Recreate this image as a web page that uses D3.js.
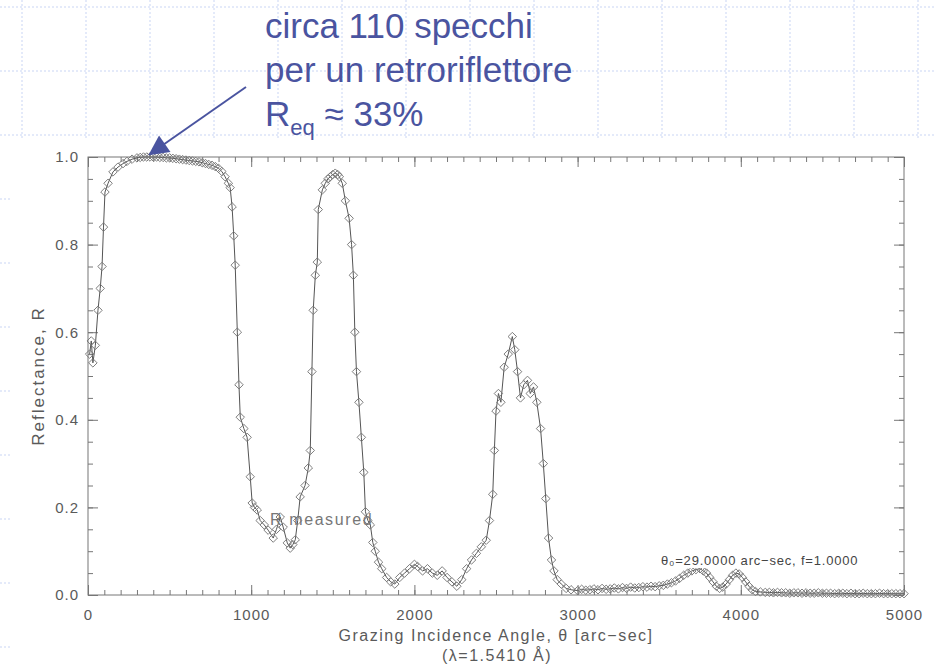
<!DOCTYPE html>
<html>
<head>
<meta charset="utf-8">
<script src="https://cdn.jsdelivr.net/npm/d3@7"></script>
<style>
    html, body { margin: 0; padding: 0; background: #fff; }
    svg { display: block; }
</style>
</head>
<body>
<svg id="chart" width="936" height="669"></svg>
<script>
// measured reflectance, [grazing angle in arc-sec, R]
const firstPeak = [
    [10, .55], [20, .58], [30, .53], [45, .57], [61, .65], [75, .70], [86, .75], [95, .84],
    [104, .92], [123, .94], [153, .966], [184, .977], [215, .985], [239, .99], [270, .995], [300, .998],
    [320, .999], [340, 1], [360, 1], [380, 1], [400, 1], [420, 1], [440, .999], [460, .999],
    [480, .998], [500, .998], [520, .997], [540, .996], [560, .995], [580, .994], [600, .993], [620, .992],
    [640, .991], [660, .99], [680, .989], [700, .987], [720, .985], [740, .983], [760, .981], [780, .978],
    [800, .974], [820, .967], [840, .955], [860, .94], [871, .93], [883, .886], [893, .82], [902, .753]
];
const firstTrough = [
    [915, .60], [925, .48], [933, .406], [955, .38], [975, .36], [994, .27], [1006, .21], [1020, .2],
    [1037, .194], [1055, .17], [1080, .16], [1104, .148], [1135, .13], [1155, .15], [1178, .178], [1196, .155],
    [1221, .119], [1239, .107], [1255, .115], [1270, .126], [1285, .17], [1300, .224], [1330, .25], [1350, .29]
];
const secondPeak = [
    [1362, .33], [1372, .51], [1380, .65], [1393, .73], [1405, .76], [1411, .88], [1436, .925], [1454, .94],
    [1470, .95], [1485, .955], [1500, .96], [1515, .963], [1530, .96], [1540, .955], [1558, .94], [1577, .90],
    [1600, .86], [1615, .80], [1626, .73], [1635, .60], [1645, .51], [1660, .44], [1675, .36], [1690, .28],
    [1700, .19], [1715, .17], [1730, .16], [1745, .12], [1760, .10], [1780, .075], [1800, .06], [1830, .04],
    [1855, .03], [1880, .025], [1910, .04], [1940, .05], [1970, .06], [2000, .07], [2020, .065], [2050, .055],
    [2080, .06], [2110, .05], [2140, .045], [2170, .055], [2200, .04], [2230, .03], [2260, .02], [2290, .035]
];
const thirdPeak = [
    [2320, .06], [2350, .08], [2380, .095], [2410, .11], [2440, .125], [2460, .17], [2480, .23], [2490, .33],
    [2500, .42], [2515, .46], [2530, .44], [2550, .52], [2575, .55], [2600, .59], [2615, .56], [2632, .51],
    [2650, .45], [2670, .48], [2693, .49], [2710, .46], [2730, .475], [2750, .44], [2773, .38], [2790, .30],
    [2805, .22], [2822, .13], [2840, .08], [2855, .055], [2875, .035], [2900, .025], [2930, .015], [2960, .012]
];
const tail = [
    [3000, .010], [3025, .013], [3050, .011], [3075, .012], [3100, .014], [3125, .012], [3150, .015], [3175, .013],
    [3200, .014], [3225, .016], [3250, .014], [3275, .017], [3300, .015], [3325, .018], [3350, .016], [3375, .017],
    [3400, .019], [3425, .018], [3450, .020], [3475, .019], [3500, .021], [3525, .022], [3550, .025], [3575, .028],
    [3600, .032], [3625, .038], [3650, .045], [3675, .05], [3700, .055], [3725, .058], [3750, .06], [3770, .055],
    [3790, .05], [3810, .04], [3830, .03], [3850, .02], [3870, .015], [3890, .018], [3910, .025], [3930, .035],
    [3950, .045], [3970, .05], [3990, .048], [4010, .04], [4030, .03], [4050, .02], [4070, .012], [4090, .008],
    [4120, .007], [4150, .006], [4175, .006], [4200, .005], [4225, .006], [4250, .005], [4275, .005], [4300, .004],
    [4325, .005], [4350, .005], [4375, .004], [4400, .005], [4425, .004], [4450, .004], [4475, .005], [4500, .004],
    [4525, .004], [4550, .004], [4575, .003], [4600, .004], [4625, .004], [4650, .003], [4675, .004], [4700, .003],
    [4725, .003], [4750, .004], [4775, .003], [4800, .003], [4825, .003], [4850, .004], [4875, .003], [4900, .003],
    [4925, .003], [4950, .003], [4975, .003], [5000, .003]
];

const xTicks = [0, 1000, 2000, 3000, 4000, 5000];
const yTicks = [0, 0.2, 0.4, 0.6, 0.8, 1.0];
const noteLines = ['circa 110 specchi', 'per un retroriflettore'];

const W = 936, H = 669;
const blue = '#4a54a0';
const ink = '#5a5a5a';
const axisFont = '"Liberation Sans Narrow", "Liberation Sans", Arial, sans-serif';

const svg = d3.select('#chart');

// slide background: dotted blue grid
const grid = svg.append('g');
grid.selectAll('line.h')
    .data(d3.range(7, H, 64))
    .join('line')
    .attr('class', 'h')
    .attr('x1', 0).attr('x2', W)
    .attr('y1', d => d).attr('y2', d => d);
grid.selectAll('line.v')
    .data(d3.range(22, W, 64))
    .join('line')
    .attr('class', 'v')
    .attr('x1', d => d).attr('x2', d => d)
    .attr('y1', 0).attr('y2', H);
grid.selectAll('line')
    .attr('stroke', '#c9d5f4')
    .attr('stroke-width', 1)
    .attr('stroke-dasharray', '2,2');

// the pasted plot sits on a white panel
svg.append('rect')
    .attr('x', 10).attr('y', 140)
    .attr('width', W - 10).attr('height', H - 140)
    .attr('fill', '#fff');

const x = d3.scaleLinear().domain([0, 5000]).range([88, 904]);
const y = d3.scaleLinear().domain([0, 1]).range([595, 157]);

const plot = svg.append('g');

function styleAxis(g) {
    g.select('.domain').remove();
    g.selectAll('.tick line').attr('stroke', '#777').attr('stroke-width', 1);
    g.selectAll('.tick text')
        .attr('fill', ink)
        .style('font-family', axisFont)
        .style('font-size', '15px')
        .style('letter-spacing', '1px');
}

// bottom / top
plot.append('g')
    .attr('transform', `translate(0,${y(0)})`)
    .call(d3.axisBottom(x).tickValues(d3.range(0, 5001, 100)).tickSize(-5).tickFormat(''))
    .call(styleAxis);
plot.append('g')
    .attr('transform', `translate(0,${y(0)})`)
    .call(d3.axisBottom(x).tickValues(xTicks).tickSize(-10).tickPadding(14).tickFormat(d3.format('d')))
    .call(styleAxis);
plot.append('g')
    .attr('transform', `translate(0,${y(1)})`)
    .call(d3.axisTop(x).tickValues(d3.range(0, 5001, 100)).tickSize(-5).tickFormat(''))
    .call(styleAxis);
plot.append('g')
    .attr('transform', `translate(0,${y(1)})`)
    .call(d3.axisTop(x).tickValues(xTicks).tickSize(-10).tickFormat(''))
    .call(styleAxis);

// left / right
plot.append('g')
    .attr('transform', `translate(${x(0)},0)`)
    .call(d3.axisLeft(y).tickValues(d3.range(0, 1.001, 0.05)).tickSize(-5).tickFormat(''))
    .call(styleAxis);
plot.append('g')
    .attr('transform', `translate(${x(0)},0)`)
    .call(d3.axisLeft(y).tickValues(yTicks).tickSize(-10).tickPadding(9).tickFormat(d3.format('.1f')))
    .call(styleAxis);
plot.append('g')
    .attr('transform', `translate(${x(5000)},0)`)
    .call(d3.axisRight(y).tickValues(d3.range(0, 1.001, 0.05)).tickSize(-5).tickFormat(''))
    .call(styleAxis);
plot.append('g')
    .attr('transform', `translate(${x(5000)},0)`)
    .call(d3.axisRight(y).tickValues(yTicks).tickSize(-10).tickFormat(''))
    .call(styleAxis);

plot.append('rect')
    .attr('x', x(0)).attr('y', y(1))
    .attr('width', x(5000) - x(0)).attr('height', y(0) - y(1))
    .attr('fill', 'none')
    .attr('stroke', '#777');

// curve + diamonds
const measured = firstPeak.concat(firstTrough, secondPeak, thirdPeak, tail);

const line = d3.line()
    .x(d => x(d[0]))
    .y(d => y(d[1]));

plot.append('path')
    .datum(measured)
    .attr('d', line)
    .attr('fill', 'none')
    .attr('stroke', '#555')
    .attr('stroke-width', 1);

const diamond = d3.symbol(d3.symbolSquare, 36);
plot.append('g')
    .selectAll('path')
    .data(measured)
    .join('path')
    .attr('d', diamond)
    .attr('transform', d => `translate(${x(d[0])},${y(d[1])}) rotate(45)`)
    .attr('fill', 'none')
    .attr('stroke', '#777')
    .attr('stroke-width', 0.9);

// axis titles
plot.append('text')
    .attr('transform', `translate(44,${(y(0) + y(1)) / 2}) rotate(-90)`)
    .attr('text-anchor', 'middle')
    .attr('fill', ink)
    .style('font-family', axisFont)
    .style('font-size', '17px')
    .style('letter-spacing', '2px')
    .text('Reflectance, R');

plot.append('text')
    .attr('x', 496).attr('y', 641)
    .attr('text-anchor', 'middle')
    .attr('fill', ink)
    .style('font-family', axisFont)
    .style('font-size', '16px')
    .style('letter-spacing', '1.5px')
    .text('Grazing Incidence Angle, θ [arc−sec]');

plot.append('text')
    .attr('x', 497).attr('y', 661)
    .attr('text-anchor', 'middle')
    .attr('fill', ink)
    .style('font-family', axisFont)
    .style('font-size', '16px')
    .style('letter-spacing', '1.5px')
    .text('(λ=1.5410 Å)');

// legend-ish labels inside the plot
plot.append('text')
    .attr('x', 270).attr('y', 525)
    .attr('fill', '#777')
    .style('font-family', axisFont)
    .style('font-size', '16px')
    .style('letter-spacing', '1.6px')
    .text('R measured');

const note = plot.append('g').attr('transform', 'translate(657,552)');
note.append('rect')
    .attr('width', 222).attr('height', 16)
    .attr('fill', '#fff');
note.append('text')
    .attr('x', 4).attr('y', 13)
    .attr('fill', '#444')
    .style('font-family', axisFont)
    .style('font-size', '13px')
    .style('letter-spacing', '0.8px')
    .text('θ₀=29.0000 arc−sec, f=1.0000');

// annotation on top of the slide
const ann = svg.append('g')
    .style('font-family', '"Liberation Sans", Arial, sans-serif')
    .style('font-size', '35px')
    .attr('fill', blue);

ann.selectAll('text.line')
    .data(noteLines)
    .join('text')
    .attr('class', 'line')
    .attr('x', 265)
    .attr('y', (d, i) => 38 + i * 44)
    .text(d => d);

const req = ann.append('text').attr('x', 265).attr('y', 126);
req.append('tspan').text('R');
req.append('tspan').attr('dy', 9).style('font-size', '22px').text('eq');
req.append('tspan').attr('dy', -9).text(' ≈ 33%');

svg.append('defs').append('marker')
    .attr('id', 'head')
    .attr('viewBox', '0 0 10 10')
    .attr('refX', 9).attr('refY', 5)
    .attr('markerUnits', 'userSpaceOnUse')
    .attr('markerWidth', 24).attr('markerHeight', 20)
    .attr('orient', 'auto')
    .append('path')
    .attr('d', 'M0,0L10,5L0,10Z')
    .attr('fill', blue);

svg.append('line')
    .attr('x1', 246).attr('y1', 87)
    .attr('x2', 150).attr('y2', 154)
    .attr('stroke', blue)
    .attr('stroke-width', 2)
    .attr('marker-end', 'url(#head)');
</script>
</body>
</html>
